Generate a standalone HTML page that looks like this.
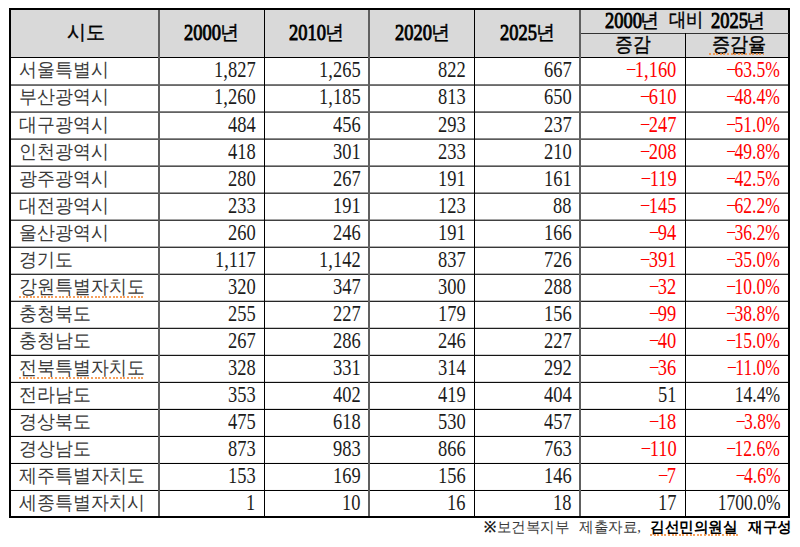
<!DOCTYPE html><html><head><meta charset="utf-8"><title>table</title><style>
*{margin:0;padding:0;box-sizing:border-box}
html,body{width:800px;height:547px;background:#fff;overflow:hidden}
body{position:relative;font-family:"Liberation Serif",serif;color:#000}
.l{position:absolute;background:#000}
.g{position:absolute;background:#777}
.n{position:absolute;font-size:22.5px;line-height:27px;height:27px;white-space:nowrap;transform:scaleX(0.82);transform-origin:100% 50%;color:#1c1c1c}
.p{transform:scaleX(0.78)}
.m{margin-right:-2px}
.k{position:absolute;font-size:19px;line-height:27px;height:27px;white-space:nowrap;transform:scaleX(0.945);transform-origin:0 50%;color:#3a3a3a}
.hd{position:absolute;font-size:22.5px;line-height:27px;height:27px;white-space:nowrap;transform:scaleX(0.82);transform-origin:0 50%;font-weight:normal;-webkit-text-stroke:0.9px #000}
.hk{position:absolute;font-size:20px;line-height:27px;height:27px;white-space:nowrap;transform:scaleX(0.95);transform-origin:0 50%;color:#000;-webkit-text-stroke:0.4px #000}
.r{color:#ff0000}
.u{position:absolute;height:2px;background:repeating-linear-gradient(90deg,#f59040 0 2px,rgba(255,255,255,0) 2px 3.6px);opacity:0.85}
</style></head><body>
<div style="position:absolute;left:11px;top:10px;width:777px;height:47px;background:#d9d9d9"></div>
<div class="l" style="left:9px;top:8px;width:781px;height:2px"></div>
<div class="l" style="left:9px;top:516px;width:781px;height:2px"></div>
<div class="l" style="left:9px;top:8px;width:2px;height:510px"></div>
<div class="l" style="left:788px;top:8px;width:2px;height:510px"></div>
<div class="l" style="left:9px;top:57px;width:781px;height:1px"></div>
<div class="g" style="left:580px;top:33px;width:209px;height:1px;background:#333"></div>
<div class="g" style="left:11px;top:84px;width:777px;height:1px;background:rgb(123,123,123)"></div>
<div class="g" style="left:11px;top:85px;width:777px;height:1px;background:rgb(106,106,106)"></div>
<div class="g" style="left:11px;top:111px;width:777px;height:1px;background:rgb(132,132,132)"></div>
<div class="g" style="left:11px;top:112px;width:777px;height:1px;background:rgb(98,98,98)"></div>
<div class="g" style="left:11px;top:138px;width:777px;height:1px;background:rgb(140,140,140)"></div>
<div class="g" style="left:11px;top:139px;width:777px;height:1px;background:rgb(90,90,90)"></div>
<div class="g" style="left:11px;top:165px;width:777px;height:1px;background:rgb(148,148,148)"></div>
<div class="g" style="left:11px;top:166px;width:777px;height:1px;background:rgb(81,81,81)"></div>
<div class="g" style="left:11px;top:192px;width:777px;height:1px;background:rgb(157,157,157)"></div>
<div class="g" style="left:11px;top:193px;width:777px;height:1px;background:rgb(73,73,73)"></div>
<div class="g" style="left:11px;top:219px;width:777px;height:1px;background:rgb(165,165,165)"></div>
<div class="g" style="left:11px;top:220px;width:777px;height:1px;background:rgb(64,64,64)"></div>
<div class="g" style="left:11px;top:246px;width:777px;height:1px;background:rgb(174,174,174)"></div>
<div class="g" style="left:11px;top:247px;width:777px;height:1px;background:rgb(56,56,56)"></div>
<div class="g" style="left:11px;top:273px;width:777px;height:1px;background:rgb(182,182,182)"></div>
<div class="g" style="left:11px;top:274px;width:777px;height:1px;background:rgb(47,47,47)"></div>
<div class="g" style="left:11px;top:300px;width:777px;height:1px;background:rgb(190,190,190)"></div>
<div class="g" style="left:11px;top:301px;width:777px;height:1px;background:rgb(39,39,39)"></div>
<div class="g" style="left:11px;top:327px;width:777px;height:1px;background:rgb(199,199,199)"></div>
<div class="g" style="left:11px;top:328px;width:777px;height:1px;background:rgb(31,31,31)"></div>
<div class="g" style="left:11px;top:354px;width:777px;height:1px;background:rgb(207,207,207)"></div>
<div class="g" style="left:11px;top:355px;width:777px;height:1px;background:rgb(22,22,22)"></div>
<div class="g" style="left:11px;top:381px;width:777px;height:1px;background:rgb(216,216,216)"></div>
<div class="g" style="left:11px;top:382px;width:777px;height:1px;background:rgb(14,14,14)"></div>
<div class="g" style="left:11px;top:408px;width:777px;height:1px;background:rgb(224,224,224)"></div>
<div class="g" style="left:11px;top:409px;width:777px;height:1px;background:rgb(5,5,5)"></div>
<div class="g" style="left:11px;top:435px;width:777px;height:1px;background:rgb(233,233,233)"></div>
<div class="g" style="left:11px;top:436px;width:777px;height:1px;background:rgb(0,0,0)"></div>
<div class="g" style="left:11px;top:462px;width:777px;height:1px;background:rgb(241,241,241)"></div>
<div class="g" style="left:11px;top:463px;width:777px;height:1px;background:rgb(0,0,0)"></div>
<div class="g" style="left:11px;top:489px;width:777px;height:1px;background:rgb(249,249,249)"></div>
<div class="g" style="left:11px;top:490px;width:777px;height:1px;background:rgb(0,0,0)"></div>
<div class="g" style="left:158px;top:10px;width:2px;height:506px;background:#606060"></div>
<div class="l" style="left:264px;top:10px;width:1px;height:506px"></div>
<div class="g" style="left:368px;top:10px;width:2px;height:506px;background:#606060"></div>
<div class="l" style="left:474px;top:10px;width:1px;height:506px"></div>
<div class="g" style="left:579px;top:10px;width:2px;height:506px;background:#606060"></div>
<div class="l" style="left:685px;top:33px;width:1px;height:483px"></div>
<div class="hk" style="left:67px;top:19px;">시도</div>
<div class="hd" style="left:184.2px;top:19px">2000</div>
<div class="hk" style="left:220.2px;top:19px;">년</div>
<div class="hd" style="left:289.2px;top:19px">2010</div>
<div class="hk" style="left:325.2px;top:19px;">년</div>
<div class="hd" style="left:394.7px;top:19px">2020</div>
<div class="hk" style="left:430.7px;top:19px;">년</div>
<div class="hd" style="left:500px;top:19px">2025</div>
<div class="hk" style="left:536px;top:19px;">년</div>
<div class="hd" style="left:605px;top:7px">2000</div>
<div class="hk" style="left:639.8px;top:7px;">년</div>
<div class="hk" style="left:668.5px;top:6px;font-size:19px;transform:scaleX(0.91)">대비</div>
<div class="hd" style="left:711.2px;top:7px">2025</div>
<div class="hk" style="left:746.2px;top:7px;">년</div>
<div class="hk" style="left:615px;top:31px;transform:scaleX(0.885)">증감</div>
<div class="hk" style="left:712px;top:31px;transform:scaleX(0.905)">증감율</div>
<div class="u" style="left:709px;top:53px;width:55px"></div>
<div class="k" style="left:18.5px;top:56.40px">서울특별시</div>
<div class="n" style="right:544.7px;top:56.40px">1,827</div>
<div class="n" style="right:439.7px;top:56.40px">1,265</div>
<div class="n" style="right:334.7px;top:56.40px">822</div>
<div class="n" style="right:228.7px;top:56.40px">667</div>
<div class="n r" style="right:123.7px;top:56.40px"><span class="m">−</span>1,160</div>
<div class="n r p" style="right:19.7px;top:56.40px"><span class="m">−</span>63.5%</div>
<div class="k" style="left:18.5px;top:83.45px">부산광역시</div>
<div class="n" style="right:544.7px;top:83.45px">1,260</div>
<div class="n" style="right:439.7px;top:83.45px">1,185</div>
<div class="n" style="right:334.7px;top:83.45px">813</div>
<div class="n" style="right:228.7px;top:83.45px">650</div>
<div class="n r" style="right:123.7px;top:83.45px"><span class="m">−</span>610</div>
<div class="n r p" style="right:19.7px;top:83.45px"><span class="m">−</span>48.4%</div>
<div class="k" style="left:18.5px;top:110.50px">대구광역시</div>
<div class="n" style="right:544.7px;top:110.50px">484</div>
<div class="n" style="right:439.7px;top:110.50px">456</div>
<div class="n" style="right:334.7px;top:110.50px">293</div>
<div class="n" style="right:228.7px;top:110.50px">237</div>
<div class="n r" style="right:123.7px;top:110.50px"><span class="m">−</span>247</div>
<div class="n r p" style="right:19.7px;top:110.50px"><span class="m">−</span>51.0%</div>
<div class="k" style="left:18.5px;top:137.55px">인천광역시</div>
<div class="n" style="right:544.7px;top:137.55px">418</div>
<div class="n" style="right:439.7px;top:137.55px">301</div>
<div class="n" style="right:334.7px;top:137.55px">233</div>
<div class="n" style="right:228.7px;top:137.55px">210</div>
<div class="n r" style="right:123.7px;top:137.55px"><span class="m">−</span>208</div>
<div class="n r p" style="right:19.7px;top:137.55px"><span class="m">−</span>49.8%</div>
<div class="k" style="left:18.5px;top:164.60px">광주광역시</div>
<div class="n" style="right:544.7px;top:164.60px">280</div>
<div class="n" style="right:439.7px;top:164.60px">267</div>
<div class="n" style="right:334.7px;top:164.60px">191</div>
<div class="n" style="right:228.7px;top:164.60px">161</div>
<div class="n r" style="right:123.7px;top:164.60px"><span class="m">−</span>119</div>
<div class="n r p" style="right:19.7px;top:164.60px"><span class="m">−</span>42.5%</div>
<div class="k" style="left:18.5px;top:191.65px">대전광역시</div>
<div class="n" style="right:544.7px;top:191.65px">233</div>
<div class="n" style="right:439.7px;top:191.65px">191</div>
<div class="n" style="right:334.7px;top:191.65px">123</div>
<div class="n" style="right:228.7px;top:191.65px">88</div>
<div class="n r" style="right:123.7px;top:191.65px"><span class="m">−</span>145</div>
<div class="n r p" style="right:19.7px;top:191.65px"><span class="m">−</span>62.2%</div>
<div class="k" style="left:18.5px;top:218.70px">울산광역시</div>
<div class="n" style="right:544.7px;top:218.70px">260</div>
<div class="n" style="right:439.7px;top:218.70px">246</div>
<div class="n" style="right:334.7px;top:218.70px">191</div>
<div class="n" style="right:228.7px;top:218.70px">166</div>
<div class="n r" style="right:123.7px;top:218.70px"><span class="m">−</span>94</div>
<div class="n r p" style="right:19.7px;top:218.70px"><span class="m">−</span>36.2%</div>
<div class="k" style="left:18.5px;top:245.75px">경기도</div>
<div class="n" style="right:544.7px;top:245.75px">1,117</div>
<div class="n" style="right:439.7px;top:245.75px">1,142</div>
<div class="n" style="right:334.7px;top:245.75px">837</div>
<div class="n" style="right:228.7px;top:245.75px">726</div>
<div class="n r" style="right:123.7px;top:245.75px"><span class="m">−</span>391</div>
<div class="n r p" style="right:19.7px;top:245.75px"><span class="m">−</span>35.0%</div>
<div class="k" style="left:18.5px;top:272.80px">강원특별자치도</div>
<div class="u" style="left:19px;top:295.90px;width:125px"></div>
<div class="n" style="right:544.7px;top:272.80px">320</div>
<div class="n" style="right:439.7px;top:272.80px">347</div>
<div class="n" style="right:334.7px;top:272.80px">300</div>
<div class="n" style="right:228.7px;top:272.80px">288</div>
<div class="n r" style="right:123.7px;top:272.80px"><span class="m">−</span>32</div>
<div class="n r p" style="right:19.7px;top:272.80px"><span class="m">−</span>10.0%</div>
<div class="k" style="left:18.5px;top:299.85px">충청북도</div>
<div class="n" style="right:544.7px;top:299.85px">255</div>
<div class="n" style="right:439.7px;top:299.85px">227</div>
<div class="n" style="right:334.7px;top:299.85px">179</div>
<div class="n" style="right:228.7px;top:299.85px">156</div>
<div class="n r" style="right:123.7px;top:299.85px"><span class="m">−</span>99</div>
<div class="n r p" style="right:19.7px;top:299.85px"><span class="m">−</span>38.8%</div>
<div class="k" style="left:18.5px;top:326.90px">충청남도</div>
<div class="n" style="right:544.7px;top:326.90px">267</div>
<div class="n" style="right:439.7px;top:326.90px">286</div>
<div class="n" style="right:334.7px;top:326.90px">246</div>
<div class="n" style="right:228.7px;top:326.90px">227</div>
<div class="n r" style="right:123.7px;top:326.90px"><span class="m">−</span>40</div>
<div class="n r p" style="right:19.7px;top:326.90px"><span class="m">−</span>15.0%</div>
<div class="k" style="left:18.5px;top:353.95px">전북특별자치도</div>
<div class="u" style="left:19px;top:377.05px;width:125px"></div>
<div class="n" style="right:544.7px;top:353.95px">328</div>
<div class="n" style="right:439.7px;top:353.95px">331</div>
<div class="n" style="right:334.7px;top:353.95px">314</div>
<div class="n" style="right:228.7px;top:353.95px">292</div>
<div class="n r" style="right:123.7px;top:353.95px"><span class="m">−</span>36</div>
<div class="n r p" style="right:19.7px;top:353.95px"><span class="m">−</span>11.0%</div>
<div class="k" style="left:18.5px;top:381.00px">전라남도</div>
<div class="n" style="right:544.7px;top:381.00px">353</div>
<div class="n" style="right:439.7px;top:381.00px">402</div>
<div class="n" style="right:334.7px;top:381.00px">419</div>
<div class="n" style="right:228.7px;top:381.00px">404</div>
<div class="n" style="right:123.7px;top:381.00px">51</div>
<div class="n p" style="right:19.7px;top:381.00px">14.4%</div>
<div class="k" style="left:18.5px;top:408.05px">경상북도</div>
<div class="n" style="right:544.7px;top:408.05px">475</div>
<div class="n" style="right:439.7px;top:408.05px">618</div>
<div class="n" style="right:334.7px;top:408.05px">530</div>
<div class="n" style="right:228.7px;top:408.05px">457</div>
<div class="n r" style="right:123.7px;top:408.05px"><span class="m">−</span>18</div>
<div class="n r p" style="right:19.7px;top:408.05px"><span class="m">−</span>3.8%</div>
<div class="k" style="left:18.5px;top:435.10px">경상남도</div>
<div class="n" style="right:544.7px;top:435.10px">873</div>
<div class="n" style="right:439.7px;top:435.10px">983</div>
<div class="n" style="right:334.7px;top:435.10px">866</div>
<div class="n" style="right:228.7px;top:435.10px">763</div>
<div class="n r" style="right:123.7px;top:435.10px"><span class="m">−</span>110</div>
<div class="n r p" style="right:19.7px;top:435.10px"><span class="m">−</span>12.6%</div>
<div class="k" style="left:18.5px;top:462.15px">제주특별자치도</div>
<div class="n" style="right:544.7px;top:462.15px">153</div>
<div class="n" style="right:439.7px;top:462.15px">169</div>
<div class="n" style="right:334.7px;top:462.15px">156</div>
<div class="n" style="right:228.7px;top:462.15px">146</div>
<div class="n r" style="right:123.7px;top:462.15px"><span class="m">−</span>7</div>
<div class="n r p" style="right:19.7px;top:462.15px"><span class="m">−</span>4.6%</div>
<div class="k" style="left:18.5px;top:489.20px">세종특별자치시</div>
<div class="n" style="right:544.7px;top:489.20px">1</div>
<div class="n" style="right:439.7px;top:489.20px">10</div>
<div class="n" style="right:334.7px;top:489.20px">16</div>
<div class="n" style="right:228.7px;top:489.20px">18</div>
<div class="n" style="right:123.7px;top:489.20px">17</div>
<div class="n p" style="right:19.7px;top:489.20px">1700.0%</div>
<div class="k" style="left:484px;top:514px;font-size:15px;transform:scaleX(0.97);"><b style="color:#222">※</b>보건복지부</div>
<div class="k" style="left:578.5px;top:514px;font-size:15px;transform:scaleX(0.97);">제출자료,</div>
<div class="k" style="left:649.5px;top:514px;font-size:15px;transform:scaleX(0.97);font-weight:bold;color:#000;">김선민의원실</div>
<div class="k" style="left:747.5px;top:514px;font-size:15px;transform:scaleX(0.97);font-weight:bold;color:#000;">재구성</div>
<div class="u" style="left:650px;top:534px;width:89px"></div>
</body></html>
